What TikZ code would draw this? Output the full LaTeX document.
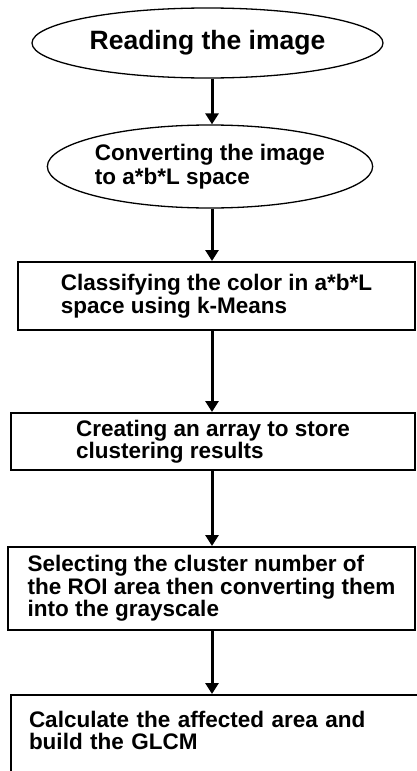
\documentclass[tikz,border=0pt]{standalone}
\usepackage{fontspec}
\setmainfont{Liberation Sans}
\usetikzlibrary{arrows.meta,positioning,shapes.geometric}
\tikzset{
    >={Triangle[length=11pt,width=13pt]},
    every picture/.style={line width=0.5pt},
    oval/.style={ellipse,draw,line width=1.3pt,inner sep=0pt,align=left,font=\bfseries\fontsize{22.5}{24}\selectfont},
    procbox/.style={rectangle,draw,line width=2pt,inner sep=0pt,align=left,font=\bfseries\fontsize{22.5}{22.5}\selectfont}
}

\begin{document}
\begin{tikzpicture}[x=1pt,y=-1pt,
        flow/.style={->,line width=3pt}]
    \useasboundingbox (0,0) rectangle (417,771);
    \clip (0,0) rectangle (417,771);

    % Steps of the segmentation
    \node[oval,minimum width=351pt,minimum height=70pt,font=\bfseries\fontsize{26.5}{28}\selectfont] (read) at (207.5,43) {Reading the image};
    \node[oval,minimum width=320pt,minimum height=83pt] (convert) at (210,166.5) {Converting the image\\to a*b*L space};
    \node[procbox,minimum width=397pt,minimum height=68pt] (classify) at (216.5,296) {Classifying the color in a*b*L\\space using k-Means};
    \node[procbox,minimum width=404pt,minimum height=57pt] (store) at (213,441.5) {Creating an array to store\\clustering results};
    \node[procbox,minimum width=407pt,minimum height=83pt] (select) at (211.5,588.5) {Selecting the cluster number of\\the ROI area then converting them\\into the grayscale};
    \node[procbox,anchor=north west,inner xsep=18pt,inner ysep=16pt,text width=384pt,text depth=40pt] (calc) at (10,694) {Calculate the affected area and\\build the GLCM};

    % Arrows between the steps
    \coordinate (ax) at (212,0);
    \draw[flow] (read.south -| ax) -- (convert.north -| ax);
    \draw[flow] (convert.south -| ax) -- (classify.north -| ax);
    \draw[flow] (classify.south -| ax) -- (store.north -| ax);
    \draw[flow] (store.south -| ax) -- (select.north -| ax);
    \draw[flow] (select.south -| ax) -- (calc.north -| ax);
\end{tikzpicture}
\end{document}
